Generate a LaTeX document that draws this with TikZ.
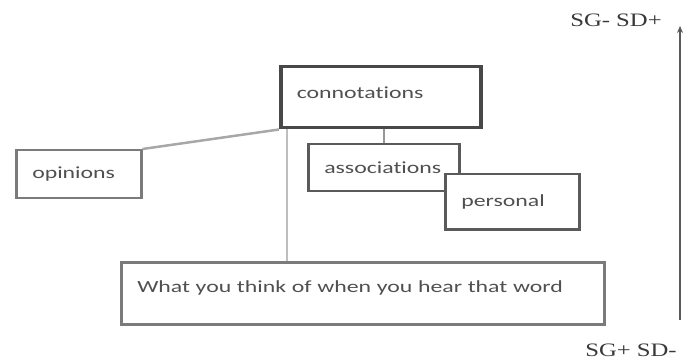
\documentclass[tikz,border=0pt]{standalone}
\usepackage{fontspec}
\usetikzlibrary{arrows.meta}
\newfontfamily\cardfont[FakeStretch=1.4,Ligatures=NoCommon]{Carlito}
\newfontfamily\axisfont[FakeStretch=1.3]{Liberation Serif}
\definecolor{edge}{HTML}{5A5A5A}
\definecolor{link}{HTML}{A8A8A8}
\definecolor{ink}{HTML}{505050}
\tikzset{
  card/.style={draw=edge, fill=white, line width=2.5pt, anchor=north west, align=left,
    inner xsep=16pt, inner ysep=0pt, text=ink, font=\cardfont\fontsize{17}{20}\selectfont},
  wire/.style={draw=link, line width=2.5pt},
  axislabel/.style={text=ink!70!black, font=\axisfont\fontsize{19}{22}\selectfont},
}
\begin{document}
\begin{tikzpicture}[x=1pt,y=-1pt]
        \useasboundingbox (0,0) rectangle (684,363);
        % word boxes
        \node[card, line width=3.5pt, draw=edge!80!black, text width=168pt, minimum height=61pt, text depth=9pt] (connotations) at (279,65) {connotations};
        \node[card, draw=edge!80, text width=93pt, minimum height=48pt] (opinions) at (15,149) {opinions};
        \node[card, text width=119pt, minimum height=47pt] (associations) at (307,143) {associations};
        \node[card, text width=102pt, minimum height=55pt] (personal) at (444,173) {personal};
        \node[card, draw=edge!80, text width=451pt, minimum height=62pt, text depth=14pt] (meaning) at (120,261) {What you think of when you hear that word};
        % links
        \draw[wire] (opinions.north east) -- (connotations.south west);
        \draw[wire, draw=link!75] ([xshift=8pt]connotations.south west) -- ([xshift=8pt]connotations.south west |- meaning.north);
        \draw[wire, draw=link!120, line width=2pt] (associations.north) -- (associations.north |- connotations.south);
        % scale on the right
        \coordinate (axislow) at (680,320);
        \coordinate (axishigh) at (680,26);
        \draw[-{Stealth[length=7pt,width=6pt]}, edge, line width=1.8pt] (axislow) -- (axishigh);
        \node[axislabel] (toplabel) at (616,20) {SG- SD+};
        \node[axislabel] (bottomlabel) at (631,350) {SG+ SD-};
    \end{tikzpicture}
\end{document}
